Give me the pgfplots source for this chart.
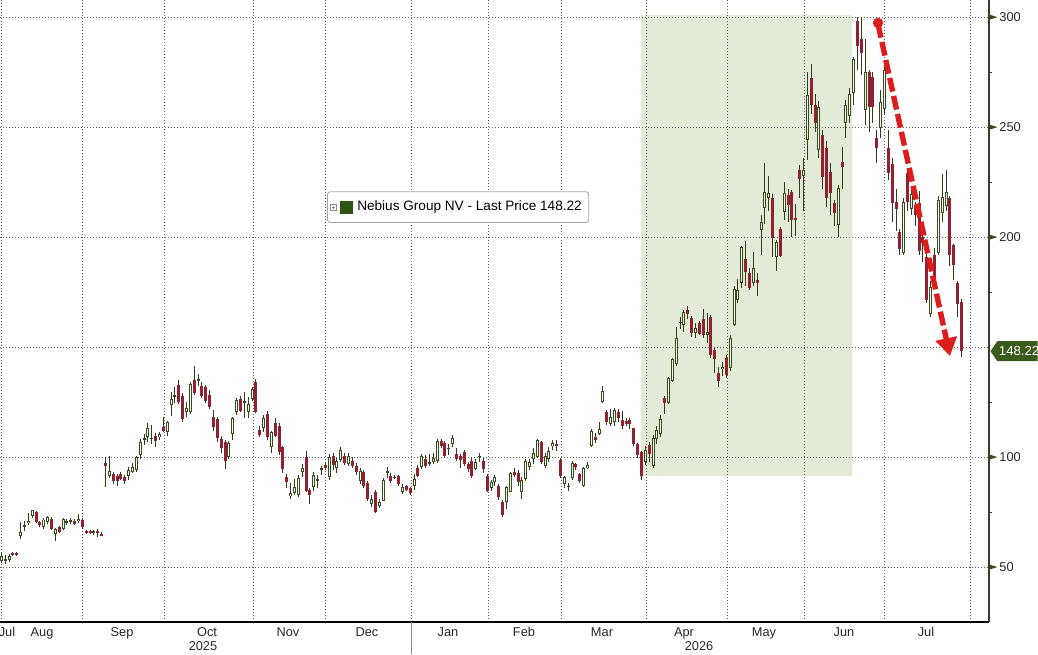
\documentclass[border=0pt]{standalone}
\usepackage{pgfplots}
\pgfplotsset{compat=1.18}
\usepackage{pgfplotstable}
\usepackage{fontspec}
\setmainfont{Liberation Sans}
\usetikzlibrary{arrows.meta}
\definecolor{upc}{RGB}{55,75,25}
\definecolor{wickc}{RGB}{50,60,30}
\definecolor{downc}{RGB}{145,33,48}
\definecolor{shadec}{RGB}{226,235,214}
\definecolor{arrowc}{RGB}{222,28,28}
\definecolor{tagc}{RGB}{58,90,28}
\definecolor{legc}{RGB}{45,85,20}
\definecolor{gridc}{RGB}{95,95,95}
\definecolor{axisc}{RGB}{55,60,45}

\pgfplotstableread{
x o h l c
1.7 53 57 52 55
5.3 53 55.5 51.5 53.5
9.3 53.5 56 52.5 55
20.7 64 70.5 63 66
24.3 68.5 71.2 66.7 69.2
28.3 70 74.5 69 71
32.3 73.5 76.2 72.5 75.8
43.3 68.2 72.3 67.5 71.7
47.3 70.5 73.2 69.5 72.7
55.3 65.2 68 62 67.4
63.3 67.4 72.5 67 72
66.7 70.3 72 69 70.7
70.7 70.8 72.5 69.5 71.2
78.7 70.8 74 70 71.8
93.3 65.8 67 64.5 66
109.3 91.7 100.5 90.5 93.6
128.7 91.7 95.5 89.5 94.4
132.3 93.5 97.5 93 95.5
136.3 94 100.5 93.5 100
140 101 108.5 99 107
144 108 110.5 105.5 108.8
147.3 109 115.5 107 113.2
151.3 108.4 114.5 106 108.8
159 109 111.5 108 110.6
167.3 111.4 116.5 109.5 115.9
171.3 123.8 129.5 118.9 126.5
174.7 127.5 131.8 124.5 128.3
186.3 120.8 125 118.5 122.3
190.3 120.5 134 119.5 133.3
198.3 135 138 132.3 135.5
228.3 100 107.5 99 106.5
232.7 110.6 118.5 108 117.7
236.7 120.5 127 119 126
244.3 125 129.5 118 125.5
248.3 120.5 127.5 118 124.2
252.3 126.5 132 125.5 131
263.3 113.2 119 111.4 117.7
271.3 104.5 112 102 111.4
290.3 82.3 88.5 81 83.8
294.3 83.8 90 83 86.4
298.3 82.9 92 82 90.6
302.3 93.2 97 91 95
313.3 86.4 93.5 84.5 92
317.3 89.5 92 86 90
321.3 94 96 92 94.9
329.3 90.9 101.5 89.5 100
336.7 95 99.5 93 98.5
340.7 98.9 104.5 98 103.3
348.7 97 102 96 100.5
360 89.4 95 88 93.9
371.3 78.8 83 77.5 81
379.3 78 81 77 79.5
383.3 80.3 90.5 80 89.8
387.3 93 95.5 90.5 93.6
394.7 90.7 92 90 91.1
402.3 84.4 88 83.5 86.4
414.3 86.8 92.5 85 90.2
421.7 95.5 101.5 94.5 100.5
429.7 97 101.5 96 97.9
433.7 98 102 97 99.5
437.3 98.5 108.5 97.5 107.6
448.7 103.8 106 101 104.2
452.7 106 110 104.5 108.6
475.7 94.7 99 94 97.7
479.3 100.3 102 98 100.6
491.3 85.9 89.5 84.5 88.6
494.7 88.6 92 87 90.9
506.3 79.5 87 76.5 86.4
510.3 84.4 93.5 84 92.9
521.7 84.1 91 81 89.8
525.7 90.2 99 89 98.5
529.3 95.5 99 94 97.7
533.3 99.2 104 97 102
537.3 100 108.5 99.5 108
545.3 96.2 102 95 100.5
548.7 99.2 104.5 98 103
552.7 105 108 103.5 106.5
564.3 87.9 91.5 86 90.9
568.3 86.6 88.5 84.5 87
572.3 90.5 98.5 89.5 97.4
583.7 87.1 95.5 86.5 95
587.3 95 98 94.5 96.5
591.3 105.3 113 104.5 112.1
599.3 110.6 116 110 112.9
602.7 125 132.6 124.5 130.3
610.7 115.2 122 114 118.5
614.7 115.9 122.5 114 121.7
645.3 98 105 96.5 103.3
653.3 96.1 110 95 108.6
656.7 108.2 114 106 112.4
660.7 110.6 119 109 117.3
668.3 124.5 136.5 124 135.9
672.3 134.8 145 134 144.5
676.3 142.4 159.4 141.5 154
680 160.9 164 158.5 161.7
683.3 160.2 167 157 166.2
695.3 156.7 161 154 158.9
707.3 155.6 165.6 152 157.1
722.3 140 143.5 137 141.2
730.3 140.5 155.5 139 154
734.3 160.2 178 159.5 176.4
737.3 171.5 181 170 176.1
741.3 179.4 196 177 195.5
753.3 179.4 193.5 178 185.9
761.3 203.3 210 192 207.1
764.7 213.2 233.6 206 220.8
768.3 217.7 228 212 220
776.3 190.9 199 184.5 198
784.3 211.7 225 208 220
803.3 227.9 236 212 230.6
807.3 244.2 275 235 264.7
818.7 239.7 262 236 259.4
838.3 205.6 224 200 222.3
845.3 251.8 262.5 245 260.2
849.3 255.2 268 252 265.2
853.3 265.8 282 260 280.9
865.3 257.9 290 251 275.3
880 249.5 267 245 261.7
884 258.2 278 256 276
903.3 192.7 218 192 216.2
911.3 212.7 223 210 219.5
930.7 165.2 180 164 177.6
938.7 192.7 219 192 217
942.7 210.9 229 207 218.2
946.7 214.2 230.6 212 220.8
}\upT

\pgfplotstableread{
x o h l c
12.3 56.3 57 55 55.5
16 56.2 56.8 55 55.6
36 75 75.5 70 70.5
39.3 70.5 71 68.5 69
51.3 72 73 67 67.5
59.3 68.2 68.8 65.5 65.9
74.3 70.8 72 69 69.8
82.3 71.7 72.5 67.5 68.2
86 66.3 67 65 65.6
90 66.2 66.8 65 65.8
97.3 66.2 67.3 63.8 65.9
101 65 66 64 64.7
105 97.4 100 86.4 95.9
113.3 92.4 93.5 88 89.4
117.3 91.7 92.5 87 89.4
120.7 92.4 93.5 89.5 90.2
124.7 91.2 92 88 89.4
155.3 109.8 111 104.5 107.6
163.3 113.6 118.5 111.5 112.1
178.3 132.9 135 124 125
182.3 128 129 116 117.4
194.3 135.2 141.7 128.5 129.2
201.7 132.6 134 127 128
205.3 131.8 133 124.5 125.8
209.3 128.3 130.5 122 122.7
213.3 118.2 121.5 112 113.6
217.3 117.4 118.5 107 108.6
221.3 108.3 109.5 102 104
225.3 107.1 108 94.7 98.5
240.3 126.5 128 120.5 121.2
255.3 134 135.5 120 120.5
259.3 112.6 114 109 110.2
267.3 119.7 121 108 109
275.3 115.6 118 109 109.8
279.3 114.4 115.5 101 102.3
282 104.5 105 93 94.7
286.3 90.9 92.5 86 88.6
306.3 100 103 84 84.8
309.3 85.3 86 78.8 82.9
325.3 96.5 97.5 94 95
333.3 100.5 102 94 96.5
344.7 100.8 102 96.5 97.4
352.7 98.5 100 95 96.2
356.7 96.2 97.5 92 93.2
363.3 93.2 94 86 87.1
367.3 88.3 89 80 81
375.3 84.1 85 74.5 75.3
390.7 91.4 93 88.5 89.4
398 91.4 92 87 87.9
406.3 86.8 87.5 84.5 85.3
410.3 85.9 86.5 83 83.8
417.7 95 96.5 91 91.7
425.7 99.2 101 95 96.2
441.3 107.6 108.5 104 105
444.7 106.5 107.5 100 100.5
456.7 101.5 104 98.5 99.2
460.3 100.8 101.5 95 98.9
464.3 102.3 103.5 96 97
468.3 97 98 93.5 94.7
471.7 98.5 99.5 90.5 91.7
483.3 98.5 99.5 93 94.7
487.3 91.7 92.5 84 84.8
498.3 87.1 88 80.5 81.8
502.3 79.5 80.5 73 73.8
514.3 93.2 95 91 92
518.3 92.9 94 87 88.6
541.3 106.8 107.5 97 97.7
556.7 106 108 103 105
560.3 98.9 99.5 90.5 91.4
575.7 97 97.5 94 95.5
579.7 92.4 93 88.5 89.4
595.3 109 111 106.5 108
606.7 120.5 121.5 114.5 116.2
618.3 120.5 122 116 117.7
622.3 117.1 121 113 114.1
626.3 116.7 118 114 115.2
629.3 117.1 118 113 115.2
633.3 113.2 113.5 105 106
637.3 106 106.5 99.5 101
641.7 102.6 103 89.7 91.7
649.3 105.6 107 98 101.5
664.3 126.8 128 119.5 124.5
687.3 167 168.8 163 165.2
691.3 163.2 164 154.5 156.7
699.3 160.9 162 155.5 156
703.3 162.7 167.5 154 155.6
710.3 163.9 164.5 145 146.5
714.3 148.8 149.5 138.5 144.5
718.3 138.5 141 132 134.8
726.3 145 146.5 136 137.4
745.3 190 198.5 178 184.4
749.3 183.9 186 176 176.8
757.3 180.6 184 173.5 179.1
772.3 217.7 219.5 191 199.5
780.3 203.6 204.5 191 191.5
788.3 219.2 222 207 214.7
791.7 220.8 221.5 200 207.9
795.7 208.6 215 200.5 207.9
799.3 230.6 233 218 226.4
811.3 272.3 279 256 260.2
815.3 260.2 265 248 251.8
822.7 246.5 249 222 227.6
826.7 240.5 244 214 217.7
830 229.8 234 210 220
834.7 215.5 217 205 211.2
842.3 234.4 241 222 232.1
857.3 298.5 300 276 287
861.3 290 300 274 283.6
869.3 275.3 276 248 259.4
872 273 275 252 259.4
876 245 249 234 240.5
888 240.5 249 226 229.1
892 233.3 236 207 215.5
896 216.2 222 203 212.7
899.3 202.6 204 192 194.5
907.3 229.4 231 212 216.2
915.3 214.7 216 205 210.2
919.3 215.5 221 192 193.9
922.7 200.3 203 189 197.3
926.7 191.2 192.5 170 171.5
934.7 192 195 178 180
949.7 218 219 187 192
953.3 196.5 197 180.5 187.4
957.3 179.1 180 164 169.7
961.7 170.8 172 145.8 148.22
}\dnT

\begin{document}
\begin{tikzpicture}
\begin{axis}[
  at={(0pt,16pt)}, anchor=south west,
  width=494.5pt, height=311pt, scale only axis,
  xmin=0, xmax=989, ymin=25.1, ymax=307.9,
  clip=false, set layers,
  axis x line*=bottom, axis y line*=right,
  x axis line style={-, black, line width=0.6pt},
  y axis line style={-, axisc, line width=0.6pt},
  xtick={1,82,164,253,325,411,488,561,646,727,804,884,970},
  xticklabels={},
  extra x ticks={7,42,122,207,288,367,448,524,602,684,764,844,926},
  extra x tick labels={Jul,Aug,Sep,Oct,Nov,Dec,Jan,Feb,Mar,Apr,May,Jun,Jul},
  extra x tick style={grid=none, xticklabel style={anchor=north, inner sep=0pt, yshift=-2.6pt}},
  ytick={50,100,200,250,300},
  extra y ticks={150},
  extra y tick labels={},
  minor ytick={75,125,175,225,275},
  yticklabel pos=right,
  major tick length=0pt, minor tick length=1.6pt, tick align=outside,
  minor tick style={axisc, line width=0.5pt},
  xmajorgrids, ymajorgrids,
  major grid style={gridc, line width=0.5pt, dash pattern=on 0.5pt off 1pt},
  yticklabel={\tikz[baseline=-0.36em]{\fill[upc] (0,1.25pt)--(4pt,0)--(0,-1.25pt)--cycle;}\hspace{1pt}\pgfmathprintnumber{\tick}},
  yticklabel style={anchor=west, inner sep=0pt},
  every tick label/.append style={font=\fontsize{6.4pt}{7.5pt}\selectfont, text=black!85},
  /pgf/number format/assume math mode=true,
  legend style={at={(0.3306,0.667)}, anchor=west, draw=black!35, rounded corners=1.5pt, fill=white,
    font=\fontsize{6.8pt}{8pt}\selectfont, inner xsep=1.5pt, inner ysep=2.5pt},
]
\addplot[on layer=axis background, fill=shadec, draw=none, forget plot]
  coordinates {(641,91.5) (852,91.5) (852,301) (641,301)} \closedcycle;

% wicks
\addplot[forget plot, draw=none, no markers, error bars/.cd, y dir=both, y explicit, error mark=none,
  error bar style={draw=wickc, line width=0.5pt}]
  table[x=x, y expr={(\thisrow{h}+\thisrow{l})/2}, y error expr={(\thisrow{h}-\thisrow{l})/2}] {\upT};
\addplot[forget plot, draw=none, no markers, error bars/.cd, y dir=both, y explicit, error mark=none,
  error bar style={draw=wickc, line width=0.5pt}]
  table[x=x, y expr={(\thisrow{h}+\thisrow{l})/2}, y error expr={(\thisrow{h}-\thisrow{l})/2}] {\dnT};
% up bodies (hollow)
\addplot[forget plot, draw=none, no markers, error bars/.cd, y dir=both, y explicit, error mark=none,
  error bar style={draw=upc, line width=1.5pt}]
  table[x=x, y expr={(\thisrow{o}+\thisrow{c})/2}, y error expr={max((\thisrow{c}-\thisrow{o})/2,0.35)}] {\upT};
\addplot[forget plot, draw=none, no markers, error bars/.cd, y dir=both, y explicit, error mark=none,
  error bar style={draw=white, line width=0.5pt}]
  table[x=x, y expr={(\thisrow{o}+\thisrow{c})/2}, y error expr={max((\thisrow{c}-\thisrow{o})/2-0.45,0)}] {\upT};
% down bodies
\addplot[forget plot, draw=none, no markers, error bars/.cd, y dir=both, y explicit, error mark=none,
  error bar style={draw=downc, line width=1.5pt}]
  table[x=x, y expr={(\thisrow{o}+\thisrow{c})/2}, y error expr={max((\thisrow{o}-\thisrow{c})/2,0.35)}] {\dnT};

\addlegendimage{legend image code/.code={
  \draw[black!45, line width=0.3pt, sharp corners] (0pt,-1.5pt) rectangle (3pt,1.5pt);
  \draw[black!45, line width=0.3pt] (0.7pt,0pt)--(2.3pt,0pt) (1.5pt,-0.8pt)--(1.5pt,0.8pt);
  \fill[legc, sharp corners] (4.8pt,-3pt) rectangle (11.1pt,3pt);}}
\addlegendentry{Nebius Group NV - Last Price 148.22}

% annotation arrow
\draw[arrowc, line width=2.7pt, dash pattern=on 7pt off 2.2pt, -{Triangle[width=10.5pt,length=9pt]}]
  (axis cs:878,297) -- (axis cs:950,146);
\fill[arrowc] (axis cs:878,297.5) circle (2.6pt);

% last price tag
\fill[tagc] (axis cs:990.5,148.22) -- ++(3.4pt,5pt) -- ++(20.1pt,0pt) -- ++(0pt,-10pt) -- ++(-20.1pt,0pt) -- cycle;
\node[text=white, anchor=west, inner sep=0pt, font=\fontsize{6.6pt}{7.5pt}\selectfont] at (axis cs:998.5,148.22) {148.22};

% year labels and separator
\draw[black!45, line width=0.4pt] (axis cs:411,25.1) -- ++(0pt,-16pt);
\node[anchor=base, inner sep=0pt, text=black!85, font=\fontsize{6.4pt}{7.5pt}\selectfont, yshift=-14.3pt] at (axis cs:203,25.1) {2025};
\node[anchor=base, inner sep=0pt, text=black!85, font=\fontsize{6.4pt}{7.5pt}\selectfont, yshift=-14.3pt] at (axis cs:699,25.1) {2026};
\end{axis}
\pgfresetboundingbox
\path[use as bounding box] (0,0) rectangle (519pt,327pt);
\end{tikzpicture}
\end{document}
